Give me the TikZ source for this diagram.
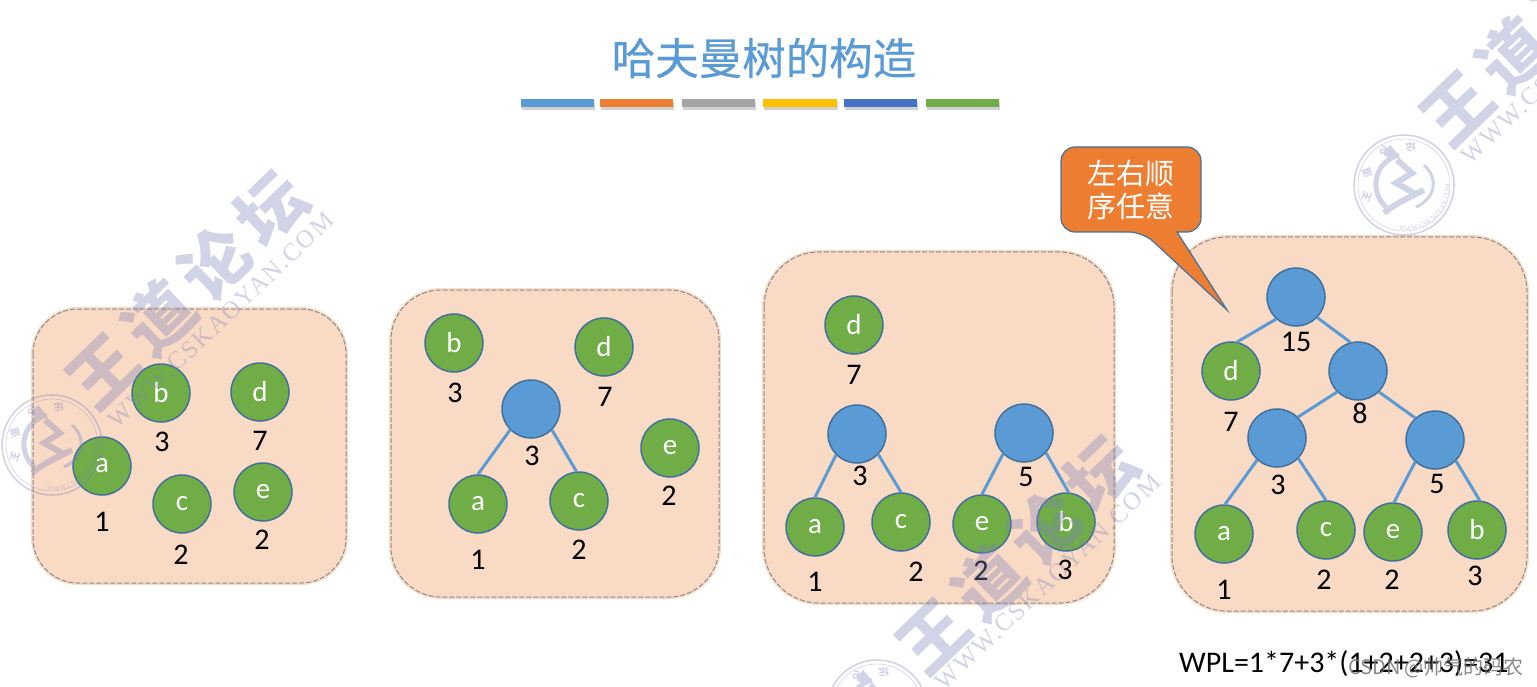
\documentclass[tikz,border=0pt]{standalone}
\usepackage{fontspec}
\setmainfont{Carlito}
\newfontfamily\cjk{Noto Sans CJK SC}
\newfontfamily\cjkbold[FakeBold=0.5]{Noto Sans CJK SC}
\newfontfamily\wmserif[LetterSpace=7]{Liberation Serif}
\usetikzlibrary{calc,shadows,decorations.text}
\definecolor{tblue}{HTML}{5B9BD5}
\definecolor{torange}{HTML}{ED7D31}
\definecolor{tgray}{HTML}{A5A5A5}
\definecolor{tyellow}{HTML}{FFC000}
\definecolor{tdeep}{HTML}{4472C4}
\definecolor{tgreen}{HTML}{70AD47}
\definecolor{rimblue}{HTML}{41719C}
\definecolor{panelfill}{HTML}{F9DAC5}
\definecolor{wmcol}{HTML}{7C82BB}
\tikzset{
  leaf/.style={circle,draw=rimblue,line width=1.5pt,fill=tgreen,minimum size=58pt,inner sep=0pt,text=white,font=\fontsize{29}{29}\selectfont},
  inner/.style={leaf,fill=tblue},
  wt/.style={inner sep=0pt,text=black,font=\fontsize{30}{30}\selectfont},
  edge/.style={tblue,line width=3pt},
  panel/.style={fill=panelfill,preaction={draw=panelfill,line width=4pt},draw=black!45,line width=1pt,dash pattern=on 5pt off 2pt},
  bar/.style={general shadow={shadow xshift=1pt,shadow yshift=-3pt,fill=black,opacity=.18}},
  wmchars/.style={inner sep=0pt,text=wmcol,font=\cjk\bfseries\fontsize{68}{68}\selectfont},
  wmurl/.style={inner sep=0pt,text=wmcol,font=\wmserif\fontsize{25}{25}\selectfont},
  stamp/.pic={
    \draw[wmcol,line width=1.6pt] (0,0) circle (50);
    \draw[wmcol,line width=.6pt] (0,0) circle (46);
    \foreach \c/\a in {王/198,道/162,论/120,坛/80}
      \node[inner sep=0pt,text=wmcol,rotate={-\a+90+180},font=\cjk\bfseries\fontsize{10}{10}\selectfont] (ring\a) at (-\a+360:39) {\c};
    \path[decorate,decoration={text along path,text align=center,
      text={|\wmserif\fontsize{7}{7}\selectfont\color{wmcol}|WWW.CSKAOYAN.COM}}]
      (115:46) arc[start angle=115,end angle=-20,radius=46];
    \draw[wmcol,line width=5pt] (-5,-30) .. controls (-32,-22) and (-34,8) .. (-18,22);
    \fill[wmcol] (-14,-40) -- (-7,-32) -- (-14,-25) -- (-21,-32) -- cycle;
    \draw[wmcol,line width=6pt] (-7,-25) -- (8,-12) -- (-8,-2) -- (10,8);
    \draw[wmcol,line width=3pt] (20,-20) .. controls (36,-5) and (30,14) .. (12,22);
    \draw[wmcol,line width=6pt] (-20,28) .. controls (-8,18) and (6,12) .. (20,5);
  }
}
\begin{document}
\begin{tikzpicture}[x=1pt,y=-1pt]
  \useasboundingbox (0,0) rectangle (1537,687);
  % title and colour bars
  \node[text=tblue,font=\cjkbold\fontsize{43.5}{44}\selectfont] (title) at (764,58) {哈夫曼树的构造};
  \foreach \xa/\xb/\c in {521/594/tblue,600/673/torange,682/755/tgray,763/837/tyellow,844/917/tdeep,926/999/tgreen}
    \path[bar,fill=\c] (\xa,99) rectangle (\xb,107);
  % panels
  \draw[panel,rounded corners=45pt] (33,309) rectangle (346,583);
  \draw[panel,rounded corners=50pt] (391,290) rectangle (719,597);
  \draw[panel,rounded corners=55pt] (764,252) rectangle (1114,603);
  \draw[panel,rounded corners=55pt] (1172,237) rectangle (1527,611);
  % circles
  \foreach \n/\l/\x/\y in {a1/a/102/466,b1/b/161/393,d1/d/260/392,c1/c/182/504,e1/e/263/492,
    b2/b/454/343,d2/d/604/347,e2/e/670/448,a2/a/478/504,c2/c/579/501,
    d3/d/854/325,a3/a/815/527,c3/c/901/522,e3/e/982/524,b3/b/1066/522,
    d4/d/1231/371,a4/a/1224/534,c4/c/1326/530,e4/e/1393/532,b4/b/1477/530}
    \node[leaf] (\n) at (\x,\y) {\l};
  \foreach \n/\x/\y in {m2/531/409,ml3/857/434,mr3/1024/433,root/1296/297,m8/1358/371,ml4/1277/438,mr4/1435/440}
    \node[inner] (\n) at (\x,\y) {};
  % weights
  \foreach \n/\l/\x/\y in {wa1/1/102/522,wb1/3/162/442,wd1/7/260/441,wc1/2/181/555,we1/2/262/540,
    wb2/3/455/393,wd2/7/605/397,wm2/3/532/456,we2/2/669/496,wa2/1/478/560,wc2/2/579/550,
    wd3/7/854/375,wl3/3/860/476,wr3/5/1026/477,wa3/1/815/582,wc3/2/916/572,we3/2/981/571,wb3/3/1065/570,
    wroot/15/1296/342,wd4/7/1231/422,wm8/8/1360/413,wl4/3/1278/485,wr4/5/1437/484,wa4/1/1224/590,wc4/2/1324/580,we4/2/1392/580,wb4/3/1475/576}
    \node[wt] (\n) at (\x,\y) {\l};
  % tree edges
  \draw[edge] (m2.225) -- (a2.90);
  \draw[edge] (m2.-45) -- (c2.95);
  \draw[edge] (ml3.225) -- (a3.90);
  \draw[edge] (ml3.-44) -- (c3.90);
  \draw[edge] (mr3.225) -- (e3.90);
  \draw[edge] (mr3.-42) -- (b3.85);
  \draw[edge] (root.228) -- (d4.78);
  \draw[edge] (root.-44) -- (m8.105);
  \draw[edge] (m8.225) -- (ml4.45);
  \draw[edge] (m8.-45) -- (mr4.132);
  \draw[edge] (ml4.228) -- (a4.88);
  \draw[edge] (ml4.-44) -- (c4.90);
  \draw[edge] (mr4.228) -- (e4.88);
  \draw[edge] (mr4.-45) -- (b4.85);
  % callout
  \coordinate (tip) at (1227,310);
  \draw[fill=torange,draw=rimblue,line width=1.2pt,rounded corners=14pt]
    (1177,232) -- (1201,232) -- (1201,147) -- (1061,147) -- (1061,232) -- (1143,232)
    [sharp corners] -- (tip) -- cycle;
  \node[align=center,text=white,font=\cjk\fontsize{29}{33}\selectfont] (note) at (1131,190) {左右顺\\序任意};
  % formula
  \node[anchor=west,inner sep=0pt,text=black,font=\fontsize{30}{30}\selectfont] (wpl) at (1179,664) {WPL=1*7+3*(1+2+2+3)=31};
  % watermarks
  \begin{scope}[transparency group,opacity=.35]
    \node[wmchars,rotate=44] (wm1) at (187,290) {王\hspace{10pt}道\hspace{10pt}论\hspace{10pt}坛};
    \node[wmurl,rotate=43.5] (url1) at (221,320) {WWW.CSKAOYAN.COM};
    \pic at (52,445) {stamp};
    \node[wmchars,rotate=44] (wm2) at (1017,555) {王\hspace{10pt}道\hspace{10pt}论\hspace{10pt}坛};
    \node[wmurl,rotate=43.5] (url2) at (1048,582) {WWW.CSKAOYAN.COM};
    \pic at (877,710) {stamp};
    \node[wmchars,rotate=44] (wm3) at (1541,27) {王\hspace{10pt}道\hspace{10pt}论\hspace{10pt}坛};
    \node[wmurl,rotate=43.5] (url3) at (1574,56) {WWW.CSKAOYAN.COM};
    \pic at (1404,185) {stamp};
  \end{scope}
  \node[text=black!55,opacity=.85,font=\cjk\fontsize{20}{20}\selectfont] (csdn) at (1436,668) {CSDN @帅气的码农};
\end{tikzpicture}
\end{document}
